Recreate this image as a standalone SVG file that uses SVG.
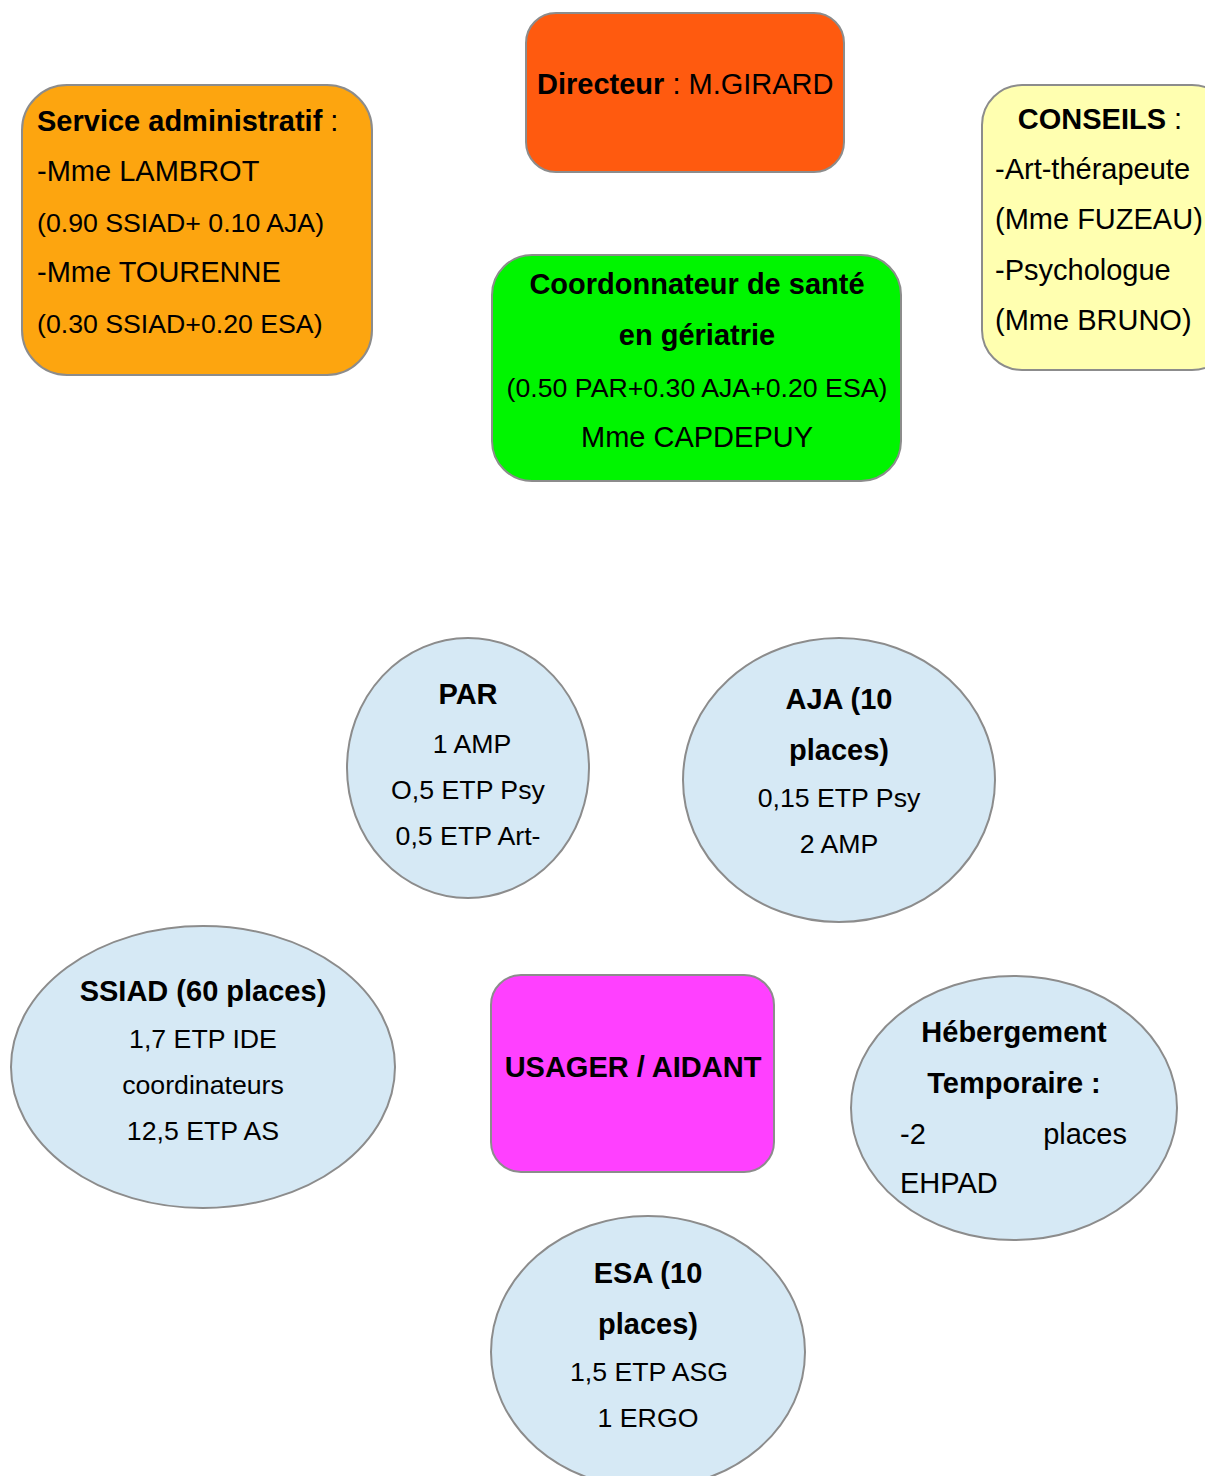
<svg xmlns="http://www.w3.org/2000/svg" width="1205" height="1476" viewBox="0 0 1205 1476">
<style>
.box{stroke:#8c8c8c;stroke-width:2}
.ell{fill:#d6e9f5;stroke:#8c8c8c;stroke-width:2}
text{font-family:"Liberation Sans",Arial,sans-serif;fill:#000}
.b{font-weight:bold;font-size:29px}
.r{font-size:26.7px}
.l{font-size:29px}
.p{font-size:26.7px}
.c{text-anchor:middle}
</style>
<rect width="1205" height="1476" fill="#fff"/>
<g id="connectors"/>
<g id="admin">
<rect class="box" x="22" y="85" width="350" height="290" rx="45" fill="#fda50f"/>
<text x="37" y="131" class="b">Service administratif<tspan font-weight="normal"> :</tspan></text>
<text x="37" y="181" class="l">-Mme LAMBROT</text>
<text x="37" y="232" class="p">(0.90 SSIAD+ 0.10 AJA)</text>
<text x="37" y="282" class="l">-Mme TOURENNE</text>
<text x="37" y="333" class="p">(0.30 SSIAD+0.20 ESA)</text>
</g>
<g id="directeur">
<rect class="box" x="526" y="13" width="318" height="159" rx="30" fill="#ff5a0f"/>
<text x="537" y="94" class="b">Directeur<tspan font-weight="normal"> : M.GIRARD</tspan></text>
</g>
<g id="conseils">
<rect class="box" x="982" y="85" width="250" height="285" rx="40" fill="#ffffb0"/>
<text x="1100" y="129" class="b c">CONSEILS<tspan font-weight="normal"> :</tspan></text>
<text x="995" y="179" class="l">-Art-thérapeute</text>
<text x="995" y="229" class="l">(Mme FUZEAU)</text>
<text x="995" y="280" class="l">-Psychologue</text>
<text x="995" y="330" class="l">(Mme BRUNO)</text>
</g>
<g id="coordonnateur">
<rect class="box" x="492" y="255" width="409" height="226" rx="40" fill="#00f500"/>
<text x="697" y="294" class="b c">Coordonnateur de santé</text>
<text x="697" y="345" class="b c">en gériatrie</text>
<text x="697" y="397" class="p c">(0.50 PAR+0.30 AJA+0.20 ESA)</text>
<text x="697" y="447" class="l c">Mme CAPDEPUY</text>
</g>
<g id="par">
<ellipse class="ell" cx="468" cy="768" rx="121" ry="130"/>
<text x="468" y="704" class="b c">PAR</text>
<text x="472" y="753" class="r c">1 AMP</text>
<text x="468" y="799" class="r c">O,5 ETP Psy</text>
<text x="468" y="845" class="r c">0,5 ETP Art-</text>
</g>
<g id="aja">
<ellipse class="ell" cx="839" cy="780" rx="156" ry="142"/>
<text x="839" y="709" class="b c">AJA (10</text>
<text x="839" y="760" class="b c">places)</text>
<text x="839" y="807" class="r c">0,15 ETP Psy</text>
<text x="839" y="853" class="r c">2 AMP</text>
</g>
<g id="ssiad">
<ellipse class="ell" cx="203" cy="1067" rx="192" ry="141"/>
<text x="203" y="1001" class="b c">SSIAD (60 places)</text>
<text x="203" y="1048" class="r c">1,7 ETP IDE</text>
<text x="203" y="1094" class="r c">coordinateurs</text>
<text x="203" y="1140" class="r c">12,5 ETP AS</text>
</g>
<g id="usager">
<rect class="box" x="491" y="975" width="283" height="197" rx="30" fill="#ff40ff"/>
<text x="633" y="1077" class="b c">USAGER / AIDANT</text>
</g>
<g id="hebergement">
<ellipse class="ell" cx="1014" cy="1108" rx="163" ry="132"/>
<text x="1014" y="1042" class="b c">Hébergement</text>
<text x="1014" y="1093" class="b c">Temporaire :</text>
<text x="900" y="1144" class="l">-2</text>
<text x="1127" y="1144" class="l" text-anchor="end">places</text>
<text x="900" y="1193" class="l">EHPAD</text>
</g>
<g id="esa">
<ellipse class="ell" cx="648" cy="1352" rx="157" ry="136"/>
<text x="648" y="1283" class="b c">ESA (10</text>
<text x="648" y="1334" class="b c">places)</text>
<text x="649" y="1381" class="r c">1,5 ETP ASG</text>
<text x="648" y="1427" class="r c">1 ERGO</text>
</g>
</svg>
